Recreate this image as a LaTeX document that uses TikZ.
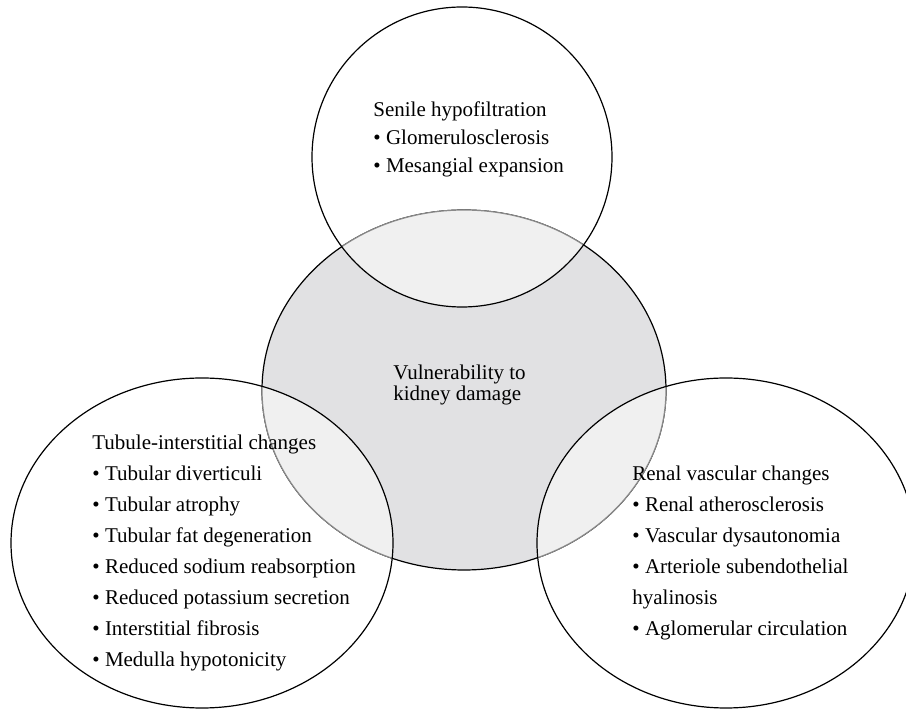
\documentclass[tikz,border=0pt]{standalone}
\usepackage{fontspec}
\setmainfont{Liberation Serif}

\definecolor{coreGray}{RGB}{225,225,227}
\definecolor{lapGray}{RGB}{240,240,240}
\definecolor{rimGray}{RGB}{138,138,138}

\tikzset{
  rim/.style={draw=black, line width=0.6pt},
  listtext/.style={align=left, anchor=west, inner sep=0pt, font=\fontsize{10.5}{15.5}\selectfont},
}

\begin{document}
\begin{tikzpicture}[x=0.5pt,y=-0.5pt]
\clip (0,0) rectangle (906,710);
% core ellipse
\fill[coreGray] (464,390) ellipse [x radius=202, y radius=180];
\draw[rim] (464,390) ellipse [x radius=202, y radius=180];
% overlaps with the outer rings
\foreach \cx/\cy/\rx/\ry in {462/157/150/150, 202/543/191/165, 726/543/189/165} {
  \begin{scope}
    \clip (\cx,\cy) ellipse [x radius=\rx, y radius=\ry];
    \fill[lapGray] (464,390) ellipse [x radius=202, y radius=180];
    \draw[rimGray, line width=0.6pt] (464,390) ellipse [x radius=202, y radius=180];
  \end{scope}
  \draw[rim] (\cx,\cy) ellipse [x radius=\rx, y radius=\ry];
}
% texts
\node[listtext, font=\fontsize{10.5}{14}\selectfont] (senile) at (373,139)
  {Senile hypofiltration\\ \textbullet\ Glomerulosclerosis\\ \textbullet\ Mesangial expansion};
\node[listtext, font=\fontsize{10.5}{10.5}\selectfont] (vuln) at (393,385)
  {Vulnerability to\\ kidney damage};
\node[listtext] (tubule) at (92,553)
  {Tubule-interstitial changes\\ \textbullet\ Tubular diverticuli\\ \textbullet\ Tubular atrophy\\
   \textbullet\ Tubular fat degeneration\\ \textbullet\ Reduced sodium reabsorption\\
   \textbullet\ Reduced potassium secretion\\ \textbullet\ Interstitial fibrosis\\ \textbullet\ Medulla hypotonicity};
\node[listtext] (renal) at (632,553)
  {Renal vascular changes\\ \textbullet\ Renal atherosclerosis\\ \textbullet\ Vascular dysautonomia\\
   \textbullet\ Arteriole subendothelial\\ hyalinosis\\ \textbullet\ Aglomerular circulation};
\end{tikzpicture}
\end{document}
